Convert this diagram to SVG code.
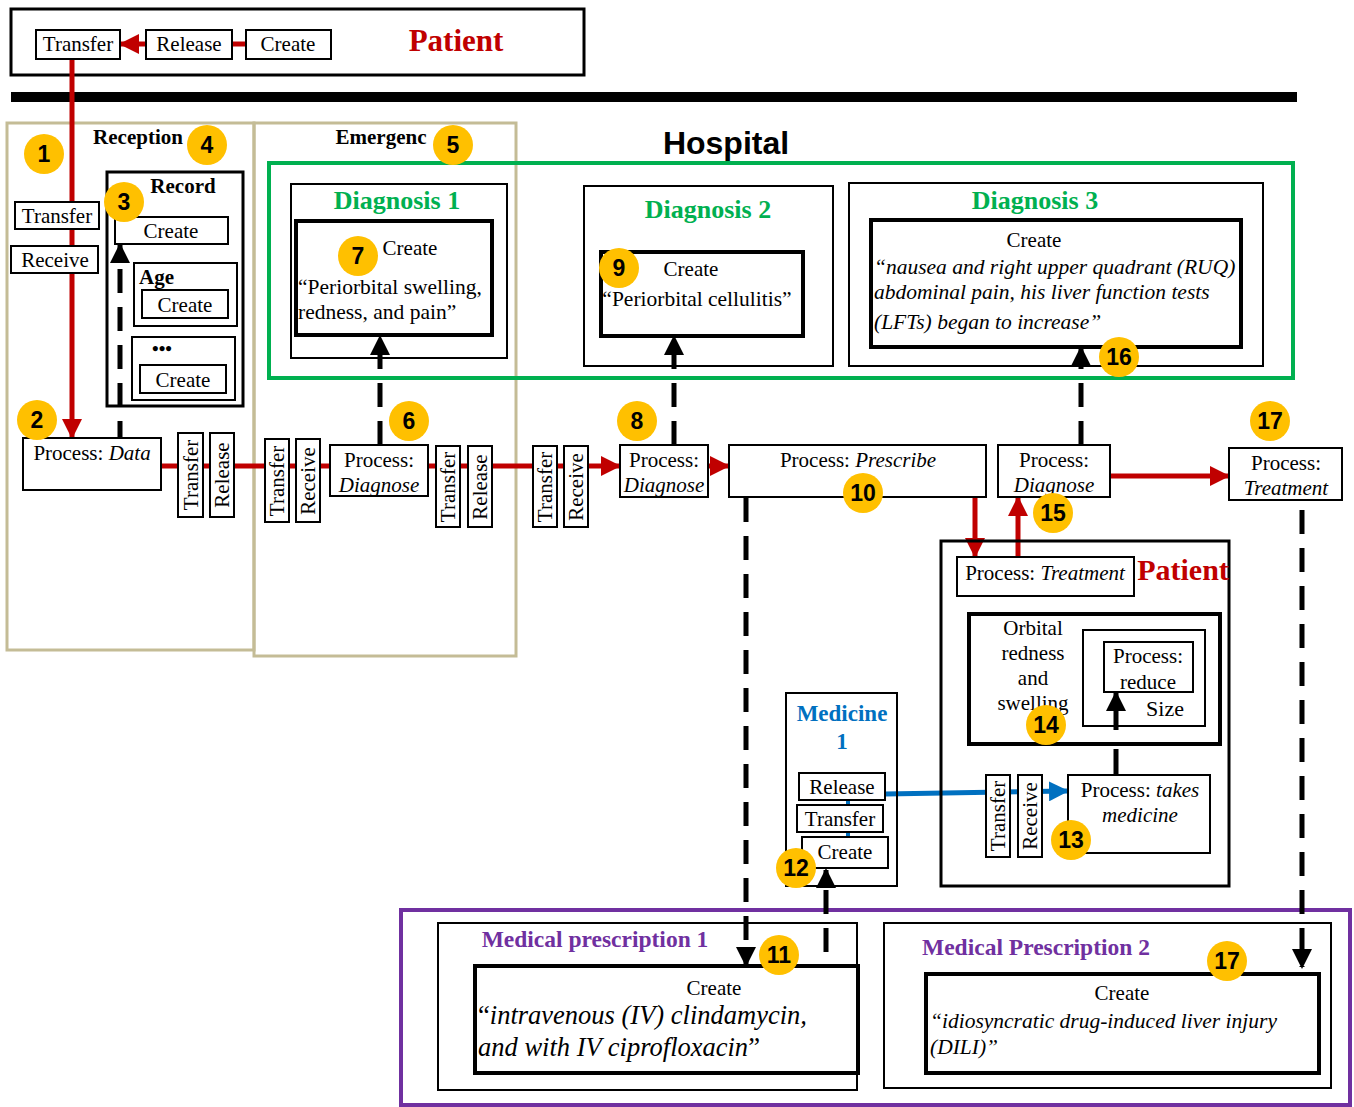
<svg xmlns="http://www.w3.org/2000/svg" width="1354" height="1107" viewBox="0 0 1354 1107">
<defs>
<style>
text{font-family:"Liberation Serif","Times New Roman",serif;font-size:21px;fill:#000}
.c{text-anchor:middle}
.i{font-style:italic}
.b{font-weight:bold}
.box{fill:#fff;stroke:#000;stroke-width:2}
.frame{fill:none;stroke:#000;stroke-width:2}
.thick{fill:#fff;stroke:#000;stroke-width:4}
.tframe{fill:none;stroke:#000;stroke-width:4}
.tan{fill:none;stroke:#C4BC96;stroke-width:3}
.red{stroke:#C00000;stroke-width:5;fill:none}
.blue{stroke:#0070C0;stroke-width:5;fill:none}
.dash{stroke:#000;stroke-width:5;fill:none;stroke-dasharray:24 14}
.solid{stroke:#000;stroke-width:5;fill:none}
.badge circle{fill:#FFC000}
.badge text{font-family:"Liberation Sans",Arial,sans-serif;font-weight:bold;font-size:23px;text-anchor:middle}
.green{fill:#00B050;font-weight:bold;font-size:26px}
.purple{fill:#7030A0;font-weight:bold;font-size:23.5px}
.q{font-size:21.5px}
</style>
<marker id="ar" viewBox="0 0 10 10" refX="9" refY="5" markerWidth="4" markerHeight="4" orient="auto" markerUnits="strokeWidth"><path d="M0,0L10,5L0,10z" fill="#C00000"/></marker>
<marker id="ab" viewBox="0 0 10 10" refX="9" refY="5" markerWidth="4" markerHeight="4" orient="auto" markerUnits="strokeWidth"><path d="M0,0L10,5L0,10z" fill="#000"/></marker>
<marker id="au" viewBox="0 0 10 10" refX="9" refY="5" markerWidth="4" markerHeight="4" orient="auto" markerUnits="strokeWidth"><path d="M0,0L10,5L0,10z" fill="#0070C0"/></marker>
</defs>
<rect width="1354" height="1107" fill="#fff"/>

<!-- containers -->
<g id="patient-top">
<rect x="11" y="9" width="573" height="66" fill="none" stroke="#000" stroke-width="3"/>
<text x="456" y="51" class="c b" style="font-size:31px;fill:#C00000">Patient</text>
</g>
<rect id="swimlane-divider" x="11" y="92" width="1286" height="10" fill="#000"/>
<g id="reception"><rect class="tan" x="7" y="123" width="247" height="527"/><text x="138" y="144" class="c b">Reception</text></g>
<g id="emergency"><rect class="tan" x="254" y="123" width="262" height="533"/><text x="381" y="144" class="c b">Emergenc</text></g>
<g id="hospital"><text x="726" y="154" class="c b" style="font-family:'Liberation Sans',Arial,sans-serif;font-size:32px">Hospital</text>
<rect x="269" y="163" width="1024" height="215" fill="none" stroke="#00B050" stroke-width="4"/></g>
<g id="prescriptions"><rect x="401" y="910" width="949" height="195" fill="none" stroke="#7030A0" stroke-width="4"/></g>

<!-- connectors -->
<g id="connectors">
<line class="red" x1="72" y1="59" x2="72" y2="437" marker-end="url(#ar)"/>
<line class="red" x1="232" y1="44" x2="246" y2="44"/>
<line class="red" x1="146" y1="44" x2="121" y2="44" marker-end="url(#ar)"/>
<line class="red" x1="161" y1="466" x2="619" y2="466" marker-end="url(#ar)"/>
<line class="red" x1="708" y1="466" x2="728" y2="466" marker-end="url(#ar)"/>
<line class="red" x1="1110" y1="476" x2="1228" y2="476" marker-end="url(#ar)"/>
<line class="red" x1="975" y1="497" x2="975" y2="556" marker-end="url(#ar)"/>
<line class="red" x1="1018" y1="557" x2="1018" y2="498" marker-end="url(#ar)"/>
<line class="dash" x1="120" y1="445" x2="120" y2="245" marker-end="url(#ab)"/>
<line class="dash" x1="380" y1="445" x2="380" y2="337" marker-end="url(#ab)"/>
<line class="dash" x1="674" y1="445" x2="674" y2="337" marker-end="url(#ab)"/>
<line class="dash" x1="1081" y1="445" x2="1081" y2="348" marker-end="url(#ab)"/>
<line class="dash" x1="746" y1="498" x2="746" y2="965" marker-end="url(#ab)"/>
<line class="dash" x1="1302" y1="510" x2="1302" y2="967" marker-end="url(#ab)"/>
<line class="dash" x1="826" y1="952" x2="826" y2="870" marker-end="url(#ab)"/>
<line class="solid" x1="1116" y1="775" x2="1116" y2="749"/>
<line class="solid" x1="1116" y1="730" x2="1116" y2="693" marker-end="url(#ab)"/>
<line class="blue" x1="885" y1="794" x2="1067" y2="791" marker-end="url(#au)"/>
<line stroke="#0070C0" stroke-width="4" x1="848" y1="800" x2="848" y2="837"/>
</g>

<!-- top patient nodes -->
<g id="p-transfer"><rect class="box" x="36" y="30" width="84" height="29"/><text x="78" y="51" class="c">Transfer</text></g>
<g id="p-release"><rect class="box" x="146" y="30" width="86" height="29"/><text x="189" y="51" class="c">Release</text></g>
<g id="p-create"><rect class="box" x="246" y="30" width="85" height="29"/><text x="288" y="51" class="c">Create</text></g>

<!-- reception nodes -->
<g id="r-transfer"><rect class="box" x="15" y="202" width="84" height="27"/><text x="57" y="223" class="c">Transfer</text></g>
<g id="r-receive"><rect class="box" x="11" y="246" width="87" height="27"/><text x="55" y="267" class="c">Receive</text></g>
<g id="record">
<rect x="107" y="172" width="136" height="234" fill="none" stroke="#000" stroke-width="3"/>
<text x="183" y="193" class="c b">Record</text>
<rect class="box" x="115" y="217" width="113" height="27"/><text x="171" y="238" class="c">Create</text>
<rect class="frame" x="134" y="263" width="103" height="63"/><text x="139" y="284" class="b">Age</text>
<rect class="box" x="142" y="290" width="86" height="28"/><text x="185" y="312" class="c">Create</text>
<rect class="frame" x="132" y="337" width="103" height="63"/><text x="162" y="355" class="c b" style="font-size:19px">•••</text>
<rect class="box" x="140" y="365" width="86" height="28"/><text x="183" y="387" class="c">Create</text>
</g>
<g id="process-data"><rect class="box" x="23" y="438" width="138" height="52"/><text x="92" y="460" class="c">Process: <tspan class="i">Data</tspan></text></g>

<!-- vertical labels -->
<g id="v1"><rect class="box" x="178" y="433" width="25" height="84"/><text class="c" transform="translate(198,475) rotate(-90)">Transfer</text></g>
<g id="v2"><rect class="box" x="210" y="433" width="24" height="84"/><text class="c" transform="translate(229,475) rotate(-90)">Release</text></g>
<g id="v3"><rect class="box" x="265" y="439" width="24" height="83"/><text class="c" transform="translate(284,481) rotate(-90)">Transfer</text></g>
<g id="v4"><rect class="box" x="296" y="439" width="24" height="83"/><text class="c" transform="translate(315,481) rotate(-90)">Receive</text></g>
<g id="v5"><rect class="box" x="436" y="446" width="24" height="81"/><text class="c" transform="translate(455,487) rotate(-90)">Transfer</text></g>
<g id="v6"><rect class="box" x="468" y="446" width="24" height="81"/><text class="c" transform="translate(487,487) rotate(-90)">Release</text></g>
<g id="v7"><rect class="box" x="533" y="446" width="24" height="81"/><text class="c" transform="translate(552,487) rotate(-90)">Transfer</text></g>
<g id="v8"><rect class="box" x="564" y="446" width="24" height="81"/><text class="c" transform="translate(583,487) rotate(-90)">Receive</text></g>

<!-- process nodes -->
<g id="process-diagnose-1"><rect class="box" x="330" y="445" width="98" height="51"/><text x="379" y="467" class="c">Process:</text><text x="379" y="492" class="c i">Diagnose</text></g>
<g id="process-diagnose-2"><rect class="box" x="620" y="445" width="88" height="52"/><text x="664" y="467" class="c">Process:</text><text x="664" y="492" class="c i">Diagnose</text></g>
<g id="process-prescribe"><rect class="box" x="729" y="445" width="257" height="52"/><text x="858" y="467" class="c">Process:  <tspan class="i">Prescribe</tspan></text></g>
<g id="process-diagnose-3"><rect class="box" x="998" y="445" width="112" height="52"/><text x="1054" y="467" class="c">Process:</text><text x="1054" y="492" class="c i">Diagnose</text></g>
<g id="process-treatment"><rect class="box" x="1229" y="448" width="113" height="52"/><text x="1286" y="470" class="c">Process:</text><text x="1286" y="495" class="c i">Treatment</text></g>

<!-- diagnoses -->
<g id="diagnosis-1">
<rect class="frame" x="291" y="184" width="216" height="174"/>
<text x="397" y="209" class="c green">Diagnosis 1</text>
<rect class="thick" x="296" y="221" width="196" height="114"/>
<text x="410" y="255" class="c">Create</text>
<text x="298" y="294" class="q">“Periorbital swelling,</text>
<text x="298" y="319" class="q">redness, and pain”</text>
</g>
<g id="diagnosis-2">
<rect class="frame" x="584" y="186" width="249" height="180"/>
<text x="708" y="218" class="c green">Diagnosis 2</text>
<rect class="thick" x="601" y="252" width="202" height="84"/>
<text x="691" y="276" class="c">Create</text>
<text x="697" y="306" class="c q">“Periorbital cellulitis”</text>
</g>
<g id="diagnosis-3">
<rect class="frame" x="849" y="183" width="414" height="183"/>
<text x="1035" y="209" class="c green">Diagnosis 3</text>
<rect class="tframe" x="871" y="220" width="370" height="127"/>
<text x="1034" y="247" class="c">Create</text>
<text x="874" y="274" class="i q">“nausea and right upper quadrant (RUQ)</text>
<text x="874" y="299" class="i q">abdominal pain, his liver function tests</text>
<text x="874" y="329" class="i q">(LFTs) began to increase”</text>
</g>

<!-- patient right -->
<g id="patient-right">
<rect x="941" y="541" width="288" height="345" fill="none" stroke="#000" stroke-width="3"/>
<text x="1183" y="580" class="c b" style="font-size:30px;fill:#C00000">Patient</text>
</g>
<g id="p-treatment"><rect class="box" x="957" y="557" width="177" height="39"/>
<text x="1045" y="580" class="c">Process: <tspan class="i">Treatment</tspan></text></g>
<g id="orbital">
<rect class="tframe" x="969" y="614" width="251" height="130"/>
<text x="1033" y="635" class="c">Orbital</text>
<text x="1033" y="660" class="c">redness</text>
<text x="1033" y="685" class="c">and</text>
<text x="1033" y="710" class="c">swelling</text>
<rect class="frame" x="1083" y="630" width="122" height="96"/>
<rect class="box" x="1104" y="642" width="89" height="50"/>
<text x="1148" y="663" class="c">Process:</text>
<text x="1148" y="689" class="c">reduce</text>
<text x="1165" y="716" class="c" style="font-size:22px">Size</text>
</g>
<g id="takes-medicine"><rect class="box" x="1068" y="775" width="142" height="78"/>
<text x="1140" y="797" class="c">Process: <tspan class="i">takes</tspan></text>
<text x="1140" y="822" class="c i">medicine</text></g>
<g id="v9"><rect class="box" x="986" y="775" width="24" height="82"/><text class="c" transform="translate(1005,816) rotate(-90)">Transfer</text></g>
<g id="v10"><rect class="box" x="1018" y="775" width="24" height="82"/><text class="c" transform="translate(1037,816) rotate(-90)">Receive</text></g>

<!-- medicine -->
<g id="medicine-1">
<rect class="frame" x="786" y="693" width="111" height="193"/>
<text x="842" y="721" class="c b" style="fill:#0070C0;font-size:23px">Medicine</text>
<text x="842" y="749" class="c b" style="fill:#0070C0;font-size:23px">1</text>
<rect class="box" x="799" y="773" width="86" height="27"/><text x="842" y="794" class="c">Release</text>
<rect class="box" x="797" y="805" width="86" height="27"/><text x="840" y="826" class="c">Transfer</text>
<rect class="box" x="802" y="837" width="86" height="31"/><text x="845" y="859" class="c">Create</text>
</g>

<!-- prescriptions -->
<g id="prescription-1">
<rect class="frame" x="438" y="923" width="419" height="167"/>
<text x="595" y="947" class="c purple">Medical prescription 1</text>
<rect class="tframe" x="475" y="966" width="383" height="107"/>
<text x="714" y="995" class="c">Create</text>
<text x="478" y="1024" class="i" style="font-size:26.5px"><tspan font-style="normal">“</tspan>intravenous (IV) clindamycin,</text>
<text x="478" y="1056" class="i" style="font-size:26.5px">and with IV ciprofloxacin<tspan font-style="normal">”</tspan></text>
</g>
<g id="prescription-2">
<rect class="frame" x="884" y="923" width="447" height="165"/>
<text x="1036" y="955" class="c purple">Medical Prescription 2</text>
<rect class="tframe" x="926" y="974" width="393" height="99"/>
<text x="1122" y="1000" class="c">Create</text>
<text x="930" y="1028" class="i q">“idiosyncratic drug-induced liver injury</text>
<text x="930" y="1054" class="i q">(DILI)”</text>
</g>

<!-- badges -->
<g class="badge" id="badges">
<g><circle cx="44" cy="154" r="20"/><text x="44" y="162">1</text></g>
<g><circle cx="37" cy="420" r="20"/><text x="37" y="428">2</text></g>
<g><circle cx="124" cy="202" r="20"/><text x="124" y="210">3</text></g>
<g><circle cx="207" cy="145" r="20"/><text x="207" y="153">4</text></g>
<g><circle cx="453" cy="145" r="20"/><text x="453" y="153">5</text></g>
<g><circle cx="409" cy="421" r="20"/><text x="409" y="429">6</text></g>
<g><circle cx="358" cy="256" r="20"/><text x="358" y="264">7</text></g>
<g><circle cx="637" cy="421" r="20"/><text x="637" y="429">8</text></g>
<g><circle cx="619" cy="268" r="20"/><text x="619" y="276">9</text></g>
<g><circle cx="863" cy="493" r="20"/><text x="863" y="501">10</text></g>
<g><circle cx="779" cy="955" r="20"/><text x="779" y="963">11</text></g>
<g><circle cx="796" cy="868" r="20"/><text x="796" y="876">12</text></g>
<g><circle cx="1071" cy="840" r="20"/><text x="1071" y="848">13</text></g>
<g><circle cx="1046" cy="725" r="20"/><text x="1046" y="733">14</text></g>
<g><circle cx="1053" cy="513" r="20"/><text x="1053" y="521">15</text></g>
<g><circle cx="1119" cy="357" r="20"/><text x="1119" y="365">16</text></g>
<g><circle cx="1270" cy="421" r="20"/><text x="1270" y="429">17</text></g>
<g><circle cx="1227" cy="961" r="20"/><text x="1227" y="969">17</text></g>
</g>
</svg>
